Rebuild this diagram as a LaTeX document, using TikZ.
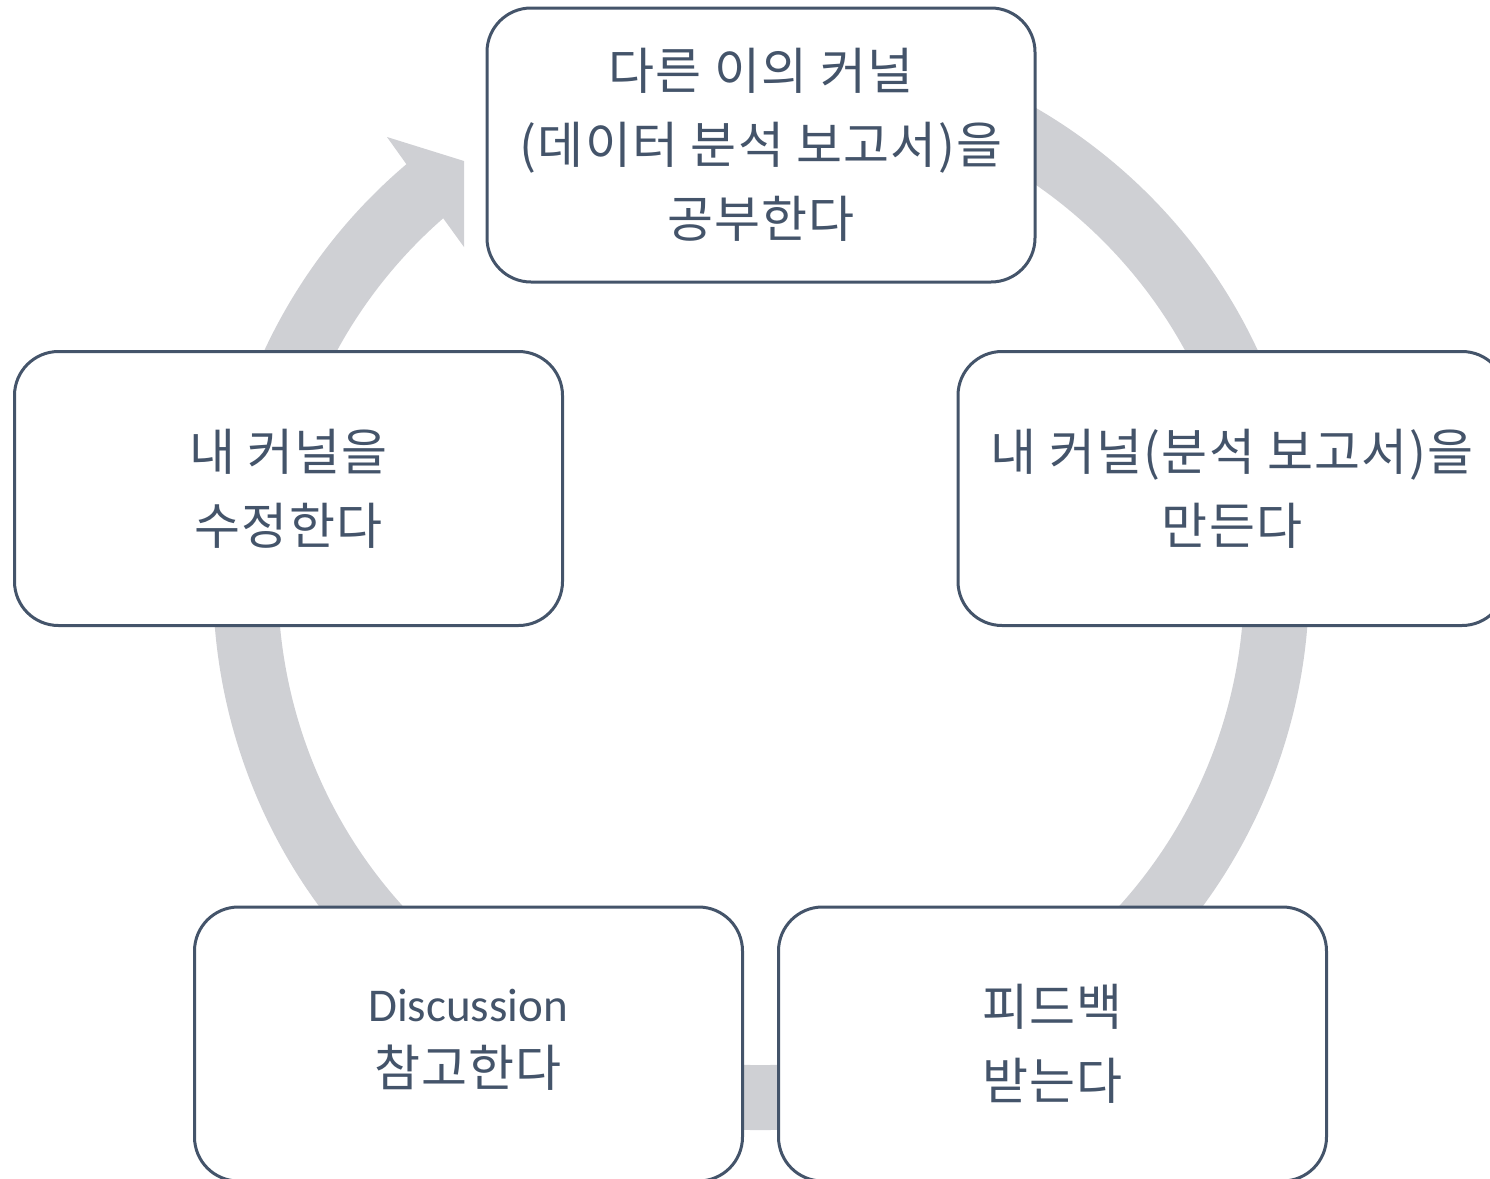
\documentclass[tikz,border=0pt]{standalone}
\usepackage{fontspec}
\setmainfont{Noto Sans CJK KR}[LetterSpace=2.5]
\newfontfamily\latinfont{Carlito}
\usetikzlibrary{calc}
\definecolor{txt}{HTML}{44546A}
\definecolor{ringgray}{HTML}{CFD0D4}
\begin{document}
\begin{tikzpicture}[x=0.5pt,y=-0.5pt,
  box/.style={draw=txt, line width=1.5pt, fill=white, rounded corners=22pt,
    minimum width=274pt, minimum height=137pt, inner sep=0pt},
  lbl/.style={text=txt, font=\fontsize{25pt}{37pt}\selectfont, align=center},
  ringstyle/.style={draw=ringgray, line width=32.5pt}]
\useasboundingbox (0,0) rectangle (1490,1179);
\clip (0,0) rectangle (1490,1179);
\coordinate (C) at (761,582);
% ring with arrowhead
\draw[ringstyle] ($(C)+(-100:515.5)$) arc[start angle=-100, end angle=232, radius=515.5];
\fill[ringgray] (407,165) -- (387,137) -- (464,161) -- (464,247) -- (443,218) -- cycle;
% boxes
\node[box, lbl] (top) at (761,145) {다른 이의 커널\\(데이터 분석 보고서)을\\공부한다};
\node[box, lbl] (right) at (1232,488.5) {내 커널(분석 보고서)을\\만든다};
\node[box, lbl] (left) at (288.5,488.5) {내 커널을\\수정한다};
\node[box] (bl) at (468.5,1044) {};
\node[lbl, font=\latinfont\fontsize{23.5pt}{28pt}\selectfont] (bl1) at (468,1005) {Discussion};
\node[lbl] (bl2) at (468,1068) {참고한다};
\node[box, lbl] (br) at (1052.5,1044) {피드백\\받는다};
\end{tikzpicture}
\end{document}
